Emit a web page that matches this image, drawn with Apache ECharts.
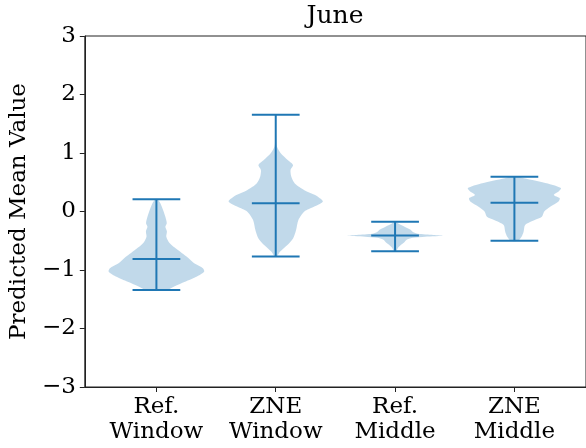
<!DOCTYPE html>
<html>
<head>
<meta charset="utf-8">
<script src="https://cdn.jsdelivr.net/npm/echarts@6/dist/echarts.min.js"></script>
<style>html,body{margin:0;padding:0;background:#fff}#chart{width:586px;height:448px}</style>
</head>
<body>
<div id="chart"></div>
<script>
const chartTitle = 'June';
const yAxisTitle = 'Predicted Mean Value';
const categories = ['Ref.\nWindow', 'ZNE\nWindow', 'Ref.\nMiddle', 'ZNE\nMiddle'];
const positions = [1, 2, 3, 4];
const yTicks = [-3, -2, -1, 0, 1, 2, 3];
const minValues = [-1.34, -0.77, -0.68, -0.50];
const maxValues = [0.21, 1.655, -0.175, 0.595];
const centerValues = [-0.81, 0.14, -0.41, 0.15];
// density profiles: [value, half-width in position units]
const profileRefWindow = [[0.21,0.01],[0.14,0.033],[0.03,0.055],[-0.09,0.075],[-0.2,0.087],[-0.26,0.075],[-0.34,0.088],[-0.43,0.083],[-0.54,0.11],[-0.66,0.18],[-0.8,0.27],[-0.89,0.32],[-0.97,0.39],[-1.03,0.40],[-1.11,0.34],[-1.2,0.24],[-1.285,0.145],[-1.34,0.09]];
const profileZneWindow = [[1.655,0.0],[1.3,0.003],[1.11,0.01],[1.0,0.04],[0.88,0.10],[0.795,0.145],[0.71,0.124],[0.6,0.13],[0.48,0.16],[0.365,0.24],[0.28,0.33],[0.17,0.395],[0.08,0.32],[0.0,0.24],[-0.145,0.19],[-0.32,0.17],[-0.46,0.145],[-0.57,0.10],[-0.69,0.035],[-0.77,0.01]];
const profileRefMiddle = [[-0.175,0.005],[-0.21,0.03],[-0.26,0.08],[-0.31,0.13],[-0.35,0.15],[-0.38,0.19],[-0.40,0.32],[-0.415,0.41],[-0.43,0.25],[-0.45,0.15],[-0.48,0.10],[-0.52,0.08],[-0.57,0.05],[-0.62,0.025],[-0.68,0.01]];
const profileZneMiddle = [[0.595,0.04],[0.57,0.08],[0.48,0.28],[0.40,0.39],[0.34,0.37],[0.28,0.33],[0.225,0.38],[0.17,0.37],[0.08,0.30],[0.0,0.25],[-0.09,0.23],[-0.145,0.17],[-0.23,0.09],[-0.345,0.077],[-0.43,0.06],[-0.5,0.03]];
const profiles = [profileRefWindow, profileZneWindow, profileRefMiddle, profileZneMiddle];
const capHalf = 0.2;

const FONT = 'DejaVu Serif';
const BLUE = '#1f77b4';
const chart = echarts.init(document.getElementById('chart'));

function renderBody(params, api) {
  const i = params.dataIndex;
  const x = api.value(0);
  const prof = profiles[i];
  const right = prof.map(p => api.coord([x + p[1], p[0]]));
  const left = prof.slice().reverse().map(p => api.coord([x - p[1], p[0]]));
  return {
    type: 'polygon',
    shape: { points: right.concat(left), smooth: 0.25 },
    style: { fill: 'rgba(31,119,180,0.28)', stroke: null }
  };
}
function renderLines(params, api) {
  const x = api.value(0), lo = api.value(1), mid = api.value(2), hi = api.value(3);
  const seg = (a, b) => ({ type: 'line', shape: { x1: a[0], y1: a[1], x2: b[0], y2: b[1] }, style: { stroke: BLUE, lineWidth: 2 } });
  return {
    type: 'group',
    children: [
      seg(api.coord([x, lo]), api.coord([x, hi])),
      seg(api.coord([x - capHalf, lo]), api.coord([x + capHalf, lo])),
      seg(api.coord([x - capHalf, hi]), api.coord([x + capHalf, hi])),
      seg(api.coord([x - capHalf, mid]), api.coord([x + capHalf, mid]))
    ]
  };
}

chart.setOption({
  animation: false,
  backgroundColor: '#fff',
  graphic: [{
    type: 'text', z: 10,
    style: { text: chartTitle, x: 335, y: 4, textAlign: 'center', textVerticalAlign: 'top', font: '25px "DejaVu Serif"', fill: '#000' }
  }],
  grid: { left: 84, top: 36, width: 507, height: 351, show: true, borderColor: '#222', borderWidth: 1, backgroundColor: 'transparent' },
  xAxis: {
    type: 'value', min: 0.4, max: 4.6,
    axisLine: { show: true, onZero: false, lineStyle: { color: '#222', width: 1 } },
    axisTick: { show: true, customValues: positions, length: 5, lineStyle: { color: '#222' } },
    axisLabel: { customValues: positions, formatter: v => categories[Math.round(v) - 1], fontFamily: FONT, fontSize: 23, lineHeight: 25, color: '#000', margin: 8 },
    splitLine: { show: false }
  },
  yAxis: {
    type: 'value', min: -3, max: 3, interval: 1,
    name: yAxisTitle, nameLocation: 'middle', nameRotate: 90, nameGap: 48,
    nameTextStyle: { fontFamily: FONT, fontSize: 23, color: '#000' },
    axisLine: { show: true, lineStyle: { color: '#222', width: 1 } },
    axisTick: { show: true, length: 5, lineStyle: { color: '#222' } },
    axisLabel: { formatter: v => String(v).replace('-', '\u2212'), fontFamily: FONT, fontSize: 23, color: '#000', margin: 9 },
    splitLine: { show: false }
  },
  series: [
    { type: 'custom', renderItem: renderBody, data: positions.map(p => [p]), z: 2, clip: false },
    { type: 'custom', renderItem: renderLines, data: positions.map((p, i) => [p, minValues[i], centerValues[i], maxValues[i]]), z: 3, clip: false }
  ]
});
</script>
</body>
</html>
